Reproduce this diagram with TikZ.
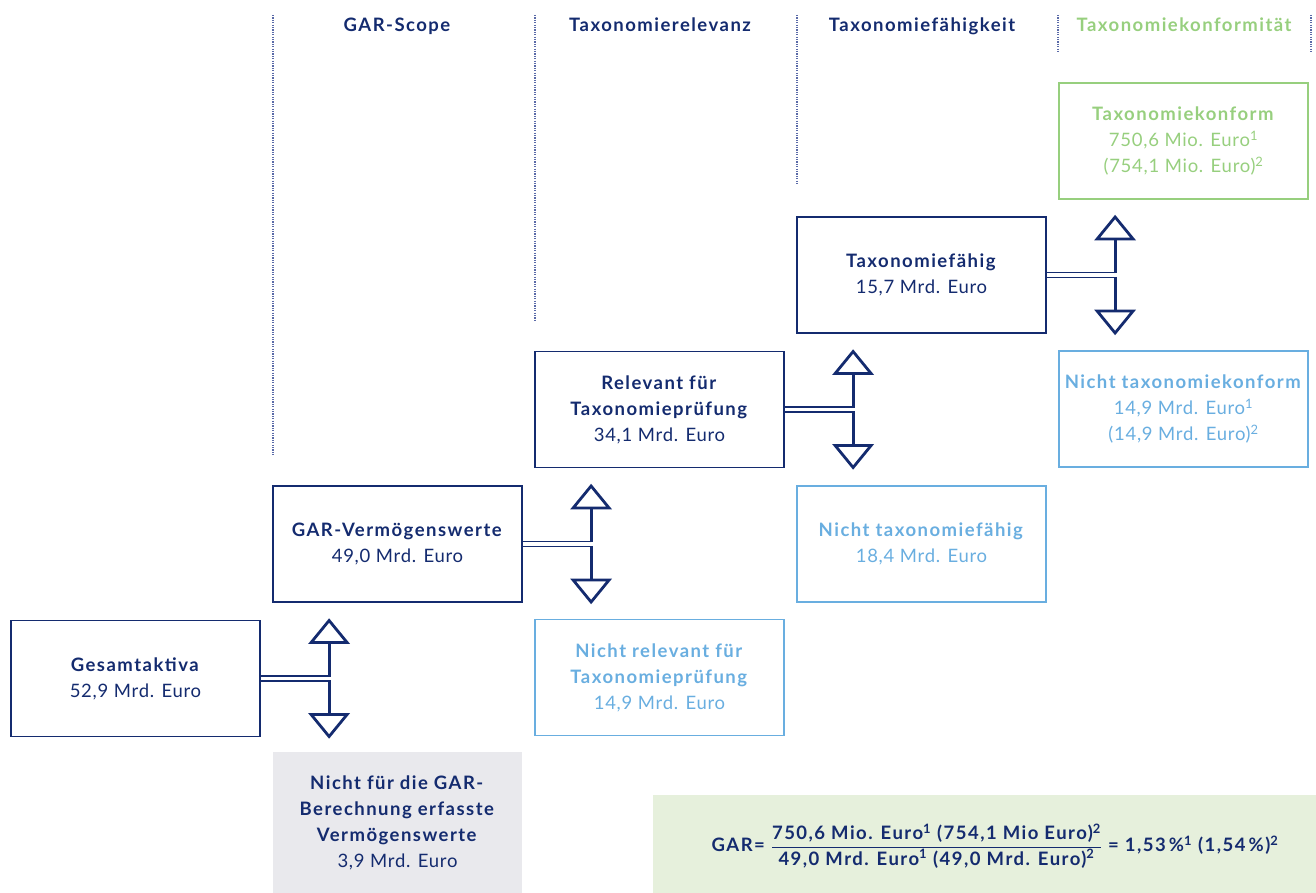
\documentclass[tikz,border=0pt]{standalone}
\usepackage{fontspec}
\usepackage{amsmath}
\setmainfont{Lato}[LetterSpace=4,BoldFeatures={LetterSpace=8}]
\usepackage{tikz}
\usetikzlibrary{calc}

\definecolor{garnavy}{HTML}{142B6F}
\definecolor{garlight}{HTML}{69AEE0}
\definecolor{gargreen}{HTML}{97CF7E}
\definecolor{gargrey}{HTML}{E9E9ED}
\definecolor{garmint}{HTML}{E6F0DC}
\definecolor{gardots}{HTML}{5A6AA8}

\begin{document}
\begin{tikzpicture}[x=1pt,y=-1pt]

\tikzset{
    stage/.style={
        draw=garnavy,
        text=garnavy,
        line width=1.2pt,
        minimum width=249pt,
        minimum height=116pt,
        inner sep=0pt,
        align=center,
        font=\fontsize{18.5}{26}\selectfont
    },
    stage out/.style={
        stage,
        draw=garlight,
        text=garlight
    },
    stage ok/.style={
        stage,
        draw=gargreen,
        text=gargreen
    },
    colhead/.style={
        anchor=base,
        text=garnavy,
        font=\fontsize{18.5}{22}\selectfont\bfseries
    },
    colline/.style={
        draw=gardots,
        line width=1.2pt,
        dash pattern=on 1.2pt off 1.2pt
    },
    pipe/.style={
        draw=garnavy,
        line width=1.7pt
    },
    shaft/.style={
        draw=garnavy,
        line width=2.8pt
    },
    head/.style={
        draw=garnavy,
        fill=white,
        line width=2.8pt,
        line join=miter
    }
}

\useasboundingbox (0,0) rectangle (1316,893);

% column headers
\node (hscope) [colhead] at (397,32) {GAR-Scope};
\node (hrel) [colhead] at (660,32) {Taxonomierelevanz};
\node (hfaehig) [colhead] at (922,32) {Taxonomiefähigkeit};
\node (hkonf) [colhead,text=gargreen] at (1184,32) {Taxonomiekonformität};

\draw[colline] (273,15) -- (273,455);
\draw[colline] (535,15) -- (535,320);
\draw[colline] (797,15) -- (797,185);
\draw[colline] (1058,15) -- (1058,52);
\draw[colline] (1311,15) -- (1311,52);

% boxes
\node (gesamt) [stage] at (135.5,678.5) {\textbf{Gesamtaktiva}\\52,9 Mrd. Euro};
\node (garverm) [stage] at (397.5,544) {\textbf{GAR-Vermögenswerte}\\49,0 Mrd. Euro};
\node (nichtgar) [stage,draw=none,fill=gargrey,minimum height=141pt] at (397.5,822.5)
    {\textbf{Nicht für die GAR-}\\\textbf{Berechnung erfasste}\\\textbf{Vermögenswerte}\\3,9 Mrd. Euro};
\node (relevant) [stage] at (659.5,409.5) {\textbf{Relevant für}\\\textbf{Taxonomieprüfung}\\34,1 Mrd. Euro};
\node (nichtrel) [stage out] at (659.5,677.5) {\textbf{Nicht relevant für}\\\textbf{Taxonomieprüfung}\\14,9 Mrd. Euro};
\node (faehig) [stage] at (921.5,275) {\textbf{Taxonomiefähig}\\15,7 Mrd. Euro};
\node (nichtfaehig) [stage out] at (921.5,544) {\textbf{Nicht taxonomiefähig}\\18,4 Mrd. Euro};
\node (konform) [stage ok] at (1183.5,141)
    {\textbf{Taxonomiekonform}\\750,6 Mio. Euro\textsuperscript{1}\\(754,1 Mio. Euro)\textsuperscript{2}};
\node (nichtkonform) [stage out] at (1183.5,409)
    {\textbf{Nicht taxonomiekonform}\\14,9 Mrd. Euro\textsuperscript{1}\\(14,9 Mrd. Euro)\textsuperscript{2}};

% GAR formula
\node (garbox) [fill=garmint,minimum width=663pt,minimum height=98pt,inner sep=0pt] at (984.5,844) {};
\node (garformula) [text=garnavy,font=\fontsize{18.5}{22}\selectfont\bfseries] at (995,846)
    {GAR= $\dfrac{\mbox{750,6 Mio. Euro\textsuperscript{1} (754,1 Mio Euro)\textsuperscript{2}}\rule[-4pt]{0pt}{4pt}}
    {\mbox{49,0 Mrd. Euro\textsuperscript{1} (49,0 Mrd. Euro)\textsuperscript{2}}}$
    = 1,53\,\%\textsuperscript{1} (1,54\,\%)\textsuperscript{2}};

% split arrows
\foreach \src in {gesamt,garverm,relevant,faehig}{
    \coordinate (\src-j) at ([xshift=68.5pt]\src.east);
    \draw[pipe] ([yshift=2.6pt]\src.east) -- ([shift={(1.4pt,2.6pt)}]\src-j);
    \draw[pipe] ([yshift=-2.6pt]\src.east) -- ([shift={(1.4pt,-2.6pt)}]\src-j);
    \draw[shaft] ([yshift=1.75pt]\src-j) -- ([yshift=36pt]\src-j);
    \draw[shaft] ([yshift=-1.75pt]\src-j) -- ([yshift=-36pt]\src-j);
    \draw[head] ([yshift=36pt]\src-j) -- ([shift={(-18pt,36pt)}]\src-j)
        -- ([yshift=58pt]\src-j) -- ([shift={(18pt,36pt)}]\src-j) -- cycle;
    \draw[head] ([yshift=-36pt]\src-j) -- ([shift={(-18pt,-36pt)}]\src-j)
        -- ([yshift=-58pt]\src-j) -- ([shift={(18pt,-36pt)}]\src-j) -- cycle;
}

\end{tikzpicture}
\end{document}
